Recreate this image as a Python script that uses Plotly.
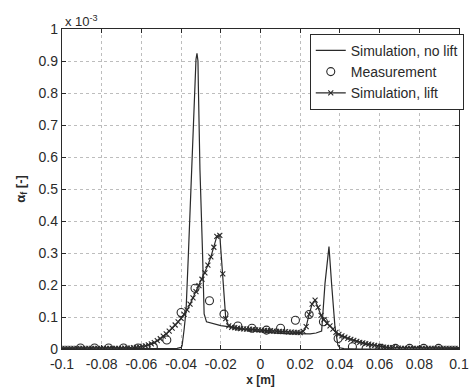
import plotly.graph_objects as go

# Void fraction profiles across the channel (values in units of 1e-3)
x_nolift = [-0.100, -0.080, -0.060, -0.045, -0.042, -0.040, -0.0395, -0.0385, -0.0375,
            -0.0363, -0.0347, -0.0333, -0.0325, -0.0320, -0.0315, -0.0313, -0.0305,
            -0.0292, -0.0284, -0.0272, -0.025, -0.020, -0.0164, -0.010, -0.005, 0.000,
            0.005, 0.010, 0.015, 0.020, 0.025, 0.028, 0.0308, 0.0325, 0.0337, 0.0345,
            0.0358, 0.0375, 0.039, 0.040, 0.042, 0.050, 0.070, 0.100]
y_nolift = [0.000, 0.000, 0.000, 0.001, 0.002, 0.005, 0.010, 0.060, 0.120,
            0.300, 0.560, 0.820, 0.905, 0.924, 0.900, 0.820, 0.560,
            0.300, 0.110, 0.085, 0.081, 0.073, 0.070, 0.062, 0.057, 0.054,
            0.051, 0.049, 0.048, 0.047, 0.047, 0.050, 0.056, 0.205, 0.290, 0.320,
            0.205, 0.070, 0.012, 0.004, 0.001, 0.000, 0.000, 0.000]

x_meas = [-0.0907, -0.0836, -0.0765, -0.0690, -0.0617, -0.0540, -0.0472, -0.0400,
          -0.0330, -0.0257, -0.0184, -0.0114, -0.0043, 0.0030, 0.0101, 0.0176,
          0.0245, 0.0317, 0.0391, 0.0463, 0.0532, 0.0607, 0.0680, 0.0751, 0.0822,
          0.0897]
y_meas = [0.003, 0.003, 0.003, 0.003, 0.003, 0.007, 0.028, 0.114,
          0.190, 0.151, 0.109, 0.072, 0.065, 0.059, 0.065, 0.090,
          0.108, 0.085, 0.033, 0.007, 0.002, 0.002, 0.002, 0.002, 0.002,
          0.002]

# Lift simulation sampled on a uniform mesh of 1.5 mm
x_lift = [round(-0.1 + 0.0015 * i, 4) for i in range(134)]
y_lift = [0.002, 0.002, 0.002, 0.002, 0.002, 0.002, 0.002, 0.002, 0.002, 0.002,
          0.002, 0.002, 0.002, 0.002, 0.002, 0.002, 0.002, 0.002, 0.002, 0.002,
          0.002, 0.003, 0.003, 0.003, 0.004, 0.005, 0.006, 0.008, 0.010, 0.013,
          0.016, 0.020, 0.026, 0.032, 0.040, 0.047, 0.056, 0.065, 0.075, 0.085,
          0.096, 0.108, 0.122, 0.140, 0.160, 0.179, 0.198, 0.218, 0.238, 0.262,
          0.288, 0.318, 0.352, 0.355, 0.235, 0.095, 0.072, 0.068, 0.067, 0.065,
          0.064, 0.063, 0.062, 0.062, 0.061, 0.060, 0.060, 0.059, 0.058, 0.057,
          0.057, 0.056, 0.055, 0.055, 0.054, 0.054, 0.053, 0.053, 0.052, 0.052,
          0.051, 0.055, 0.070, 0.108, 0.140, 0.153, 0.130, 0.105, 0.092, 0.080,
          0.072, 0.062, 0.052, 0.046, 0.041, 0.037, 0.033, 0.030, 0.027, 0.024,
          0.021, 0.019, 0.017, 0.015, 0.013, 0.011, 0.009, 0.008, 0.006, 0.005,
          0.004, 0.004, 0.003, 0.003, 0.002, 0.002, 0.002, 0.002, 0.002, 0.002,
          0.002, 0.002, 0.002, 0.002, 0.002, 0.002, 0.002, 0.002, 0.002, 0.002,
          0.002, 0.002, 0.002, 0.002]

x_ticks = [-0.1, -0.08, -0.06, -0.04, -0.02, 0, 0.02, 0.04, 0.06, 0.08, 0.1]
x_ticktext = ["-0.1", "-0.08", "-0.06", "-0.04", "-0.02", "0", "0.02", "0.04", "0.06", "0.08", "0.1"]
y_ticks = [0, 0.1, 0.2, 0.3, 0.4, 0.5, 0.6, 0.7, 0.8, 0.9, 1]
y_ticktext = ["0", "0.1", "0.2", "0.3", "0.4", "0.5", "0.6", "0.7", "0.8", "0.9", "1"]

ink = "#2a2a2a"
font = "Liberation Sans, Arial, sans-serif"

fig = go.Figure()
fig.add_trace(go.Scatter(x=x_nolift, y=y_nolift, mode="lines", name="Simulation, no lift",
                         line=dict(color=ink, width=1.2)))
fig.add_trace(go.Scatter(x=x_meas, y=y_meas, mode="markers", name="Measurement",
                         marker=dict(symbol="circle-open", size=8, color=ink,
                                     line=dict(width=1.1, color=ink))))
fig.add_trace(go.Scatter(x=x_lift, y=y_lift, mode="lines+markers", name="Simulation, lift",
                         line=dict(color=ink, width=1.2),
                         marker=dict(symbol="x-thin", size=5, color=ink,
                                     line=dict(width=1.1, color=ink))))

axis_common = dict(showline=True, linecolor=ink, linewidth=1.3, mirror="ticks",
                   ticks="inside", ticklen=4, tickcolor=ink, showgrid=True,
                   gridcolor="#bdbdbd", griddash="dot", gridwidth=1, zeroline=False,
                   automargin=False,
                   tickfont=dict(family=font, size=14, color=ink))

fig.update_xaxes(range=[-0.1, 0.1], tickvals=x_ticks, ticktext=x_ticktext,
                 ticklabelstandoff=2,
                 title=dict(text="<b>x [m]</b>", font=dict(family=font, size=12, color=ink),
                            standoff=4), **axis_common)
fig.update_yaxes(range=[0, 1], tickvals=y_ticks, ticktext=y_ticktext,
                 title=dict(text="<b>α<sub>f</sub> [-]</b>", font=dict(family=font, size=13, color=ink),
                            standoff=10), **axis_common)

fig.add_annotation(text="x 10<sup>-3</sup>", xref="paper", yref="paper", x=0.0, y=1.0,
                   xanchor="left", yanchor="bottom", showarrow=False, xshift=1, yshift=-2,
                   font=dict(family=font, size=13, color=ink))

fig.update_layout(
    width=476, height=388,
    margin=dict(l=62, r=12, t=29, b=39),
    paper_bgcolor="white", plot_bgcolor="white",
    showlegend=True,
    legend=dict(x=1.012, y=0.985, xanchor="right", yanchor="top",
                bgcolor="white", bordercolor=ink, borderwidth=1,
                font=dict(family=font, size=14, color=ink),
                tracegroupgap=0, itemwidth=30),
)

fig.write_html("out.html")
